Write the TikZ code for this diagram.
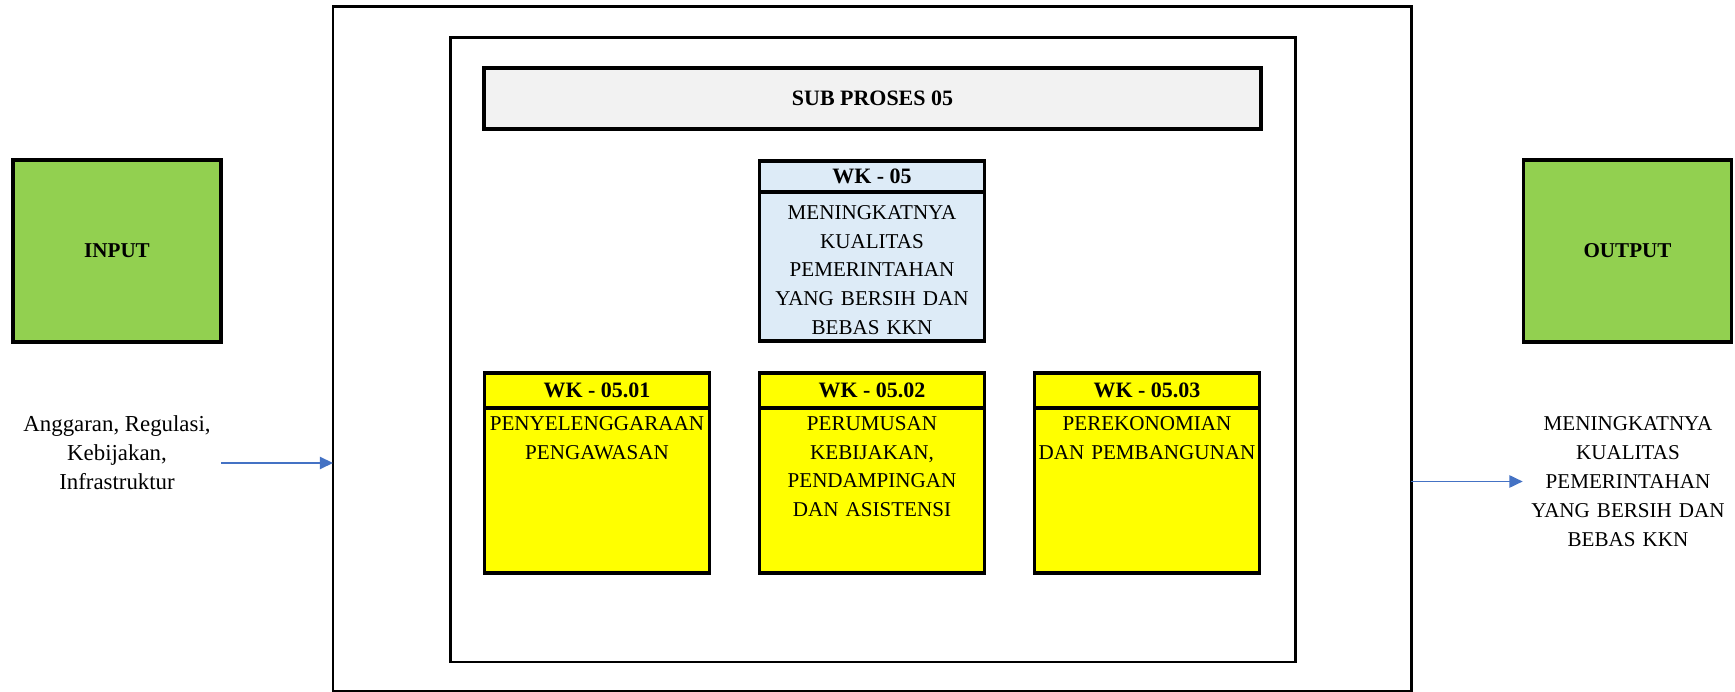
\documentclass[tikz,border=0pt]{standalone}
\usepackage{fontspec}
\setmainfont{Liberation Serif}
\usetikzlibrary{positioning,arrows.meta}
\definecolor{boxgreen}{HTML}{92D050}
\definecolor{boxblue}{HTML}{DDEBF7}
\definecolor{boxyellow}{HTML}{FFFF00}
\definecolor{bargray}{HTML}{F2F2F2}
\definecolor{flowblue}{HTML}{4472C4}

\begin{document}
\begin{tikzpicture}
        [frame/.style={draw, line width=1.7pt, outer sep=0pt},
         iobox/.style={draw, line width=2.2pt, fill=boxgreen, minimum width=4.16cm, minimum height=3.64cm, font=\fontsize{12}{14}\selectfont\bfseries},
         bar/.style={draw, line width=1.9pt, fill=bargray, minimum width=15.54cm, minimum height=1.22cm, font=\fontsize{12.5}{15}\selectfont\bfseries},
         head/.style={draw, line width=2.2pt, outer sep=0pt, inner sep=0pt, anchor=north, minimum width=4.5cm, minimum height=0.7cm, font=\fontsize{12.5}{15}\selectfont\bfseries},
         body/.style={draw, line width=2.2pt, outer sep=0pt, anchor=north, minimum width=4.5cm, minimum height=3.3cm},
         bodytext/.style={anchor=north, align=center, text width=4.45cm, inner sep=0pt, font=\fontsize{12}{16.4}\selectfont},
         note/.style={align=center, font=\fontsize{12}{16.4}\selectfont},
         flow/.style={draw=flowblue, line width=0.85pt, -{Triangle[length=7.5pt, width=7pt]}}]

        \useasboundingbox (0,0) rectangle (34.7,-13.84);

        \node [frame, minimum width=21.56cm, minimum height=13.68cm] (outer) at (17.44,-6.98) {};
        \node [frame, minimum width=16.9cm, minimum height=12.48cm]  (inner) at (17.45,-7.0) {};
        \node [bar] (sub) at (17.45,-1.97) {SUB PROSES 05};

        \node [iobox] (inp)  at (2.34,-5.02)  {INPUT};
        \node [iobox] (outp) at (32.55,-5.02) {OUTPUT};

        \node [head, fill=boxblue, line width=2pt, minimum height=0.62cm] (wk) at (17.44,-3.22) {WK - 05};
        \node [body, fill=boxblue, line width=2pt, minimum height=2.98cm] (wkb) at (wk.south) {};
        \node [bodytext] (wkt) at ([yshift=-0.26cm]wkb.north) {MENINGKATNYA\\KUALITAS\\PEMERINTAHAN\\YANG BERSIH DAN\\BEBAS KKN};

        \node [head, fill=boxyellow] (h1) at (11.94,-7.46) {WK - 05.01};
        \node [head, fill=boxyellow] (h2) [right=1cm of h1] {WK - 05.02};
        \node [head, fill=boxyellow] (h3) [right=1cm of h2] {WK - 05.03};

        \node [body, fill=boxyellow] (b1) at (h1.south) {};
        \node [body, fill=boxyellow] (b2) at (h2.south) {};
        \node [body, fill=boxyellow] (b3) at (h3.south) {};

        \node [bodytext] (t1) at ([yshift=-0.16cm]b1.north) {PENYELENGGARAAN\\PENGAWASAN};
        \node [bodytext] (t2) at ([yshift=-0.16cm]b2.north) {PERUMUSAN\\KEBIJAKAN,\\PENDAMPINGAN\\DAN ASISTENSI};
        \node [bodytext] (t3) at ([yshift=-0.16cm]b3.north) {PEREKONOMIAN\\DAN PEMBANGUNAN};

        \node [note, font=\fontsize{13}{16.4}\selectfont] (intxt) at (2.34,-9.06) {Anggaran, Regulasi,\\Kebijakan,\\Infrastruktur};
        \node [note, text width=4cm, inner sep=0.1cm] (outtxt) at (32.56,-9.63) {MENINGKATNYA\\KUALITAS\\PEMERINTAHAN\\YANG BERSIH DAN\\BEBAS KKN};

        \coordinate (inarr) at (4.42,-9.26);
        \draw [flow] (inarr) -- (inarr -| outer.west);
        \draw [flow] (outer.east |- outtxt.west) -- (outtxt.west);

\end{tikzpicture}
\end{document}
